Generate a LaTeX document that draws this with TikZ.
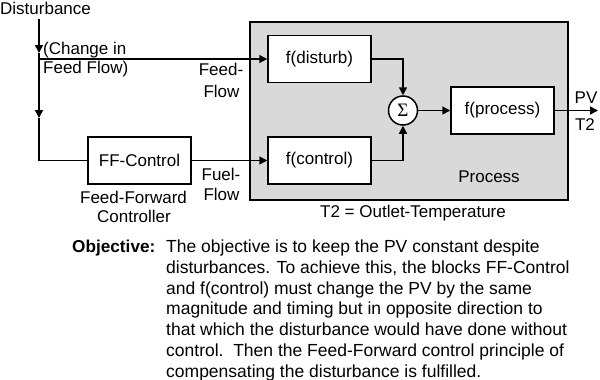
\documentclass[tikz,border=0pt]{standalone}
\usepackage{fontspec}
\setmainfont{Liberation Sans}
\newfontfamily\sigfont{Liberation Serif}
\usetikzlibrary{arrows.meta}
\tikzset{
  blk/.style={draw, line width=1.5pt, fill=white, minimum width=103pt, minimum height=47pt, inner sep=0pt, font=\fontsize{17}{20}\selectfont},
  wire/.style={line width=1.6pt},
  arr/.style={line width=1.6pt, -{Triangle[length=8pt,width=8pt]}},
  lbl/.style={inner sep=0pt, font=\fontsize{17}{20}\selectfont},
  para/.style={inner sep=0pt, font=\fontsize{17.5}{20}\selectfont},
}
\begin{document}
\begin{tikzpicture}[x=1pt,y=-1pt]
\useasboundingbox (0,0) rectangle (600,380);
% process box
\node[draw, line width=1.6pt, fill=black!15, minimum width=318pt, minimum height=178pt, inner sep=0pt] (proc) at (409,111) {};
% blocks
\node[blk] (fd) at (319.5,59) {f(disturb)};
\node[blk] (fc) at (319.5,160.5) {f(control)};
\node[blk] (ff) at (139.5,160.5) {FF-Control};
\node[blk] (fp) at (502.5,110.5) {f(process)};
\node[draw, circle, line width=1.5pt, fill=white, minimum size=29pt, inner sep=0pt, font=\sigfont\fontsize{19}{20}\selectfont] (sum) at (403,110.5) {Σ};
% labels
\node[lbl, anchor=base west] (dist) at (0,14) {Disturbance};
\node[lbl, anchor=base west] (chg1) at (43,54) {(Change in};
\node[lbl, anchor=base west] (chg2) at (43,73) {Feed Flow)};
\node[lbl, anchor=base] (feed1) at (221,75) {Feed-};
\node[lbl, anchor=base] (feed2) at (221.5,97) {Flow};
\node[lbl, anchor=base] (fuel1) at (221,180) {Fuel-};
\node[lbl, anchor=base] (fuel2) at (221.5,200) {Flow};
\node[lbl, anchor=base] (ffc1) at (133.5,203) {Feed-Forward};
\node[lbl, anchor=base] (ffc2) at (134,222) {Controller};
\node[lbl, anchor=base] (procl) at (489,182) {Process};
\node[lbl, anchor=base] (t2def) at (413,217) {T2 = Outlet-Temperature};
\node[lbl, anchor=base] (pv) at (586,103) {PV};
\node[lbl, anchor=base] (t2) at (585,130) {T2};
% connectors
\coordinate (d0) at (39,19);
\coordinate (d1) at (39,53);
\coordinate (j1) at (39,59);
\coordinate (d2) at (39,118);
\coordinate (out) at (598,110.5);
\draw[arr] (d0) -- (d1);
\draw[wire] (d1) -- (j1);
\draw[arr] (j1) -- (d2);
\draw[wire] (d2) |- (ff.west);
\draw[arr] (j1) -- (fd.west);
\draw[arr] (ff.east) -- (fc.west);
\draw[arr] (fd.east) -| (sum.north);
\draw[arr] (fc.east) -| (sum.south);
\draw[arr] (sum.east) -- (fp.west);
\draw[arr] (fp.east) -- (out);
% objective
\node[inner sep=0pt, anchor=base west, font=\fontsize{17.2}{20}\selectfont\bfseries] (obj) at (72,252.5) {Objective:};
\foreach \t [count=\i from 0] in {
  {The objective is to keep the PV constant despite},
  {disturbances. To achieve this, the blocks FF-Control},
  {and f(control) must change the PV by the same},
  {magnitude and timing but in opposite direction to},
  {that which the disturbance would have done without},
  {control.\ \ Then the Feed-Forward control principle of},
  {compensating the disturbance is fulfilled.}}
  \node[para, anchor=base west] (line\i) at (166,252.5+20.8*\i) {\t};
\end{tikzpicture}
\end{document}
